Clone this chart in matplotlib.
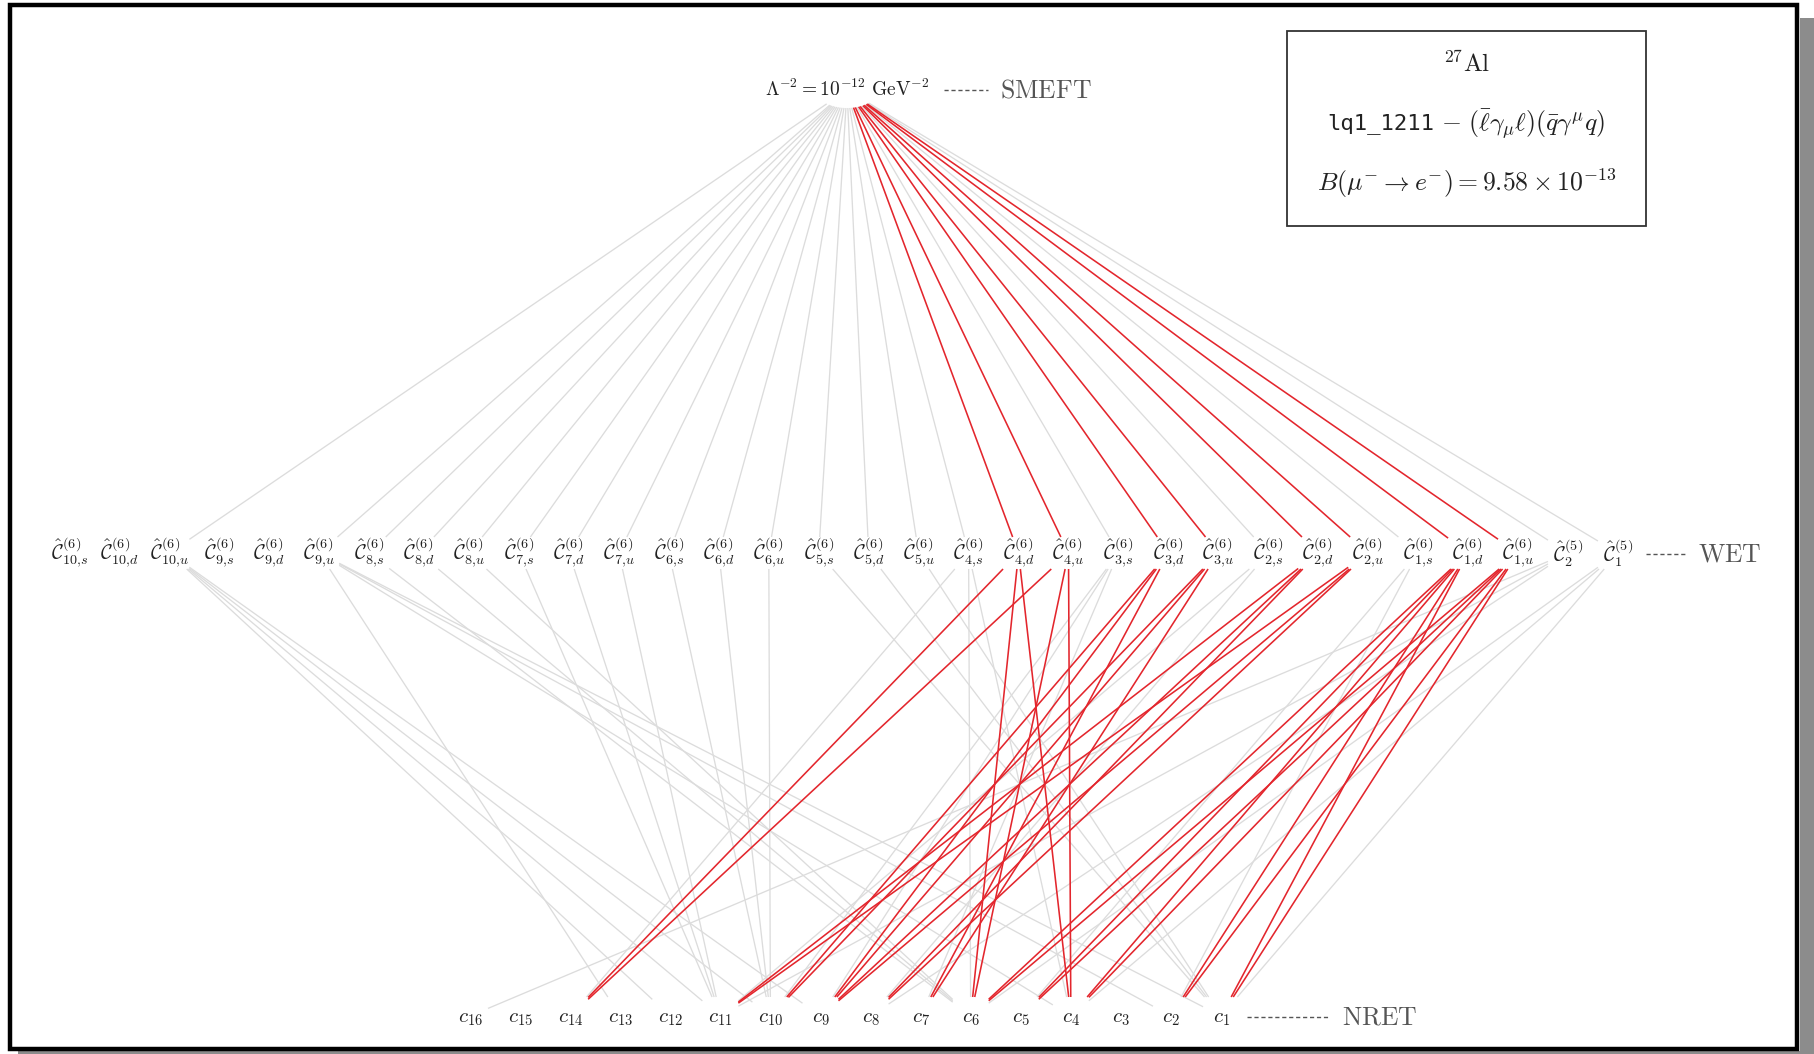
import matplotlib
matplotlib.use("Agg")
import matplotlib.pyplot as plt
from matplotlib.patches import Rectangle

plt.rcParams["mathtext.fontset"] = "cm"
plt.rcParams["font.family"] = ["DejaVu Serif"]

W, H = 1815, 1054

# ---- nodes -------------------------------------------------------------
wet_nodes = ["C10s", "C10d", "C10u", "C9s", "C9d", "C9u", "C8s", "C8d", "C8u",
             "C7s", "C7d", "C7u", "C6s", "C6d", "C6u", "C5s", "C5d", "C5u",
             "C4s", "C4d", "C4u", "C3s", "C3d", "C3u", "C2s", "C2d", "C2u",
             "C1s", "C1d", "C1u", "D2", "D1"]


def wet_label(name):
    if name.startswith("D"):
        return r"$\hat{\mathcal{C}}^{(5)}_{%s}$" % name[1:]
    return r"$\hat{\mathcal{C}}^{(6)}_{%s{,}%s}$" % (name[1:-1], name[-1])


nret_nodes = list(range(16, 0, -1))          # c16 ... c1, left to right

# ---- edges -------------------------------------------------------------
# SMEFT -> WET
smeft_gray = ["C10u", "C9u", "C8s", "C8d", "C8u", "C7s", "C7d", "C7u",
              "C6s", "C6d", "C6u", "C5s", "C5d", "C5u", "C4s", "C3s",
              "C2s", "C1s", "D2", "D1"]
smeft_red = ["C4d", "C4u", "C3d", "C3u", "C2d", "C2u", "C1d", "C1u"]

# WET -> NRET
wet_gray = {
    "C10u": [12, 11, 10, 9],
    "C9u": [13, 4, 2, 1],
    "C8s": [6], "C8d": [6], "C8u": [6],
    "C7s": [11], "C7d": [11], "C7u": [11],
    "C6s": [10], "C6d": [10], "C6u": [10],
    "C5s": [1], "C5d": [1], "C5u": [1],
    "C4s": [14, 6, 4],
    "C3s": [10, 9, 7],
    "C2s": [11, 8],
    "C1s": [5, 2],
    "D2": [16, 11, 8],
    "D1": [6, 4, 1],
}
wet_red = {
    "C4d": [14, 6, 4], "C4u": [14, 6, 4],
    "C3d": [10, 9, 7], "C3u": [10, 9, 7],
    "C2d": [11, 9, 8], "C2u": [11, 9, 8],
    "C1d": [6, 5, 4, 2, 1], "C1u": [6, 5, 4, 2, 1],
}

# ---- layout (pixel coordinates) ---------------------------------------
top_xy = (847, 90)
wet_pos = {n: (69.5 + 49.95 * i, 553) for i, n in enumerate(wet_nodes)}
nret_pos = {k: (470 + 50.07 * (16 - k), 1016) for k in nret_nodes}

GRAY = "#dcdcdc"
RED = "#e3262d"


def clip_rect(p, q, hw, hh):
    dx, dy = q[0] - p[0], q[1] - p[1]
    t = min(hw / abs(dx) if dx else 1e9, hh / abs(dy) if dy else 1e9)
    return p[0] + t * dx, p[1] + t * dy


def clip_ell(p, q, a, b):
    dx, dy = q[0] - p[0], q[1] - p[1]
    t = 1.0 / ((dx / a) ** 2 + (dy / b) ** 2) ** 0.5
    return p[0] + t * dx, p[1] + t * dy


fig = plt.figure(figsize=(W / 100, H / 100), dpi=100)
ax = fig.add_axes([0, 0, 1, 1])
ax.set_xlim(0, W)
ax.set_ylim(H, 0)
ax.axis("off")


def edge(a, b, color, z, a_top=False):
    if a_top:
        s = clip_ell(a, b, 32, 18)
        e = clip_rect(b, a, 20, 16)
    else:
        s = clip_rect(a, b, 20, 16)
        e = clip_rect(b, a, 18, 19)
    ax.plot([s[0], e[0]], [s[1], e[1]], color=color,
            lw=1.15 if color == RED else 0.95, zorder=z, solid_capstyle="butt")


for n in smeft_gray:
    edge(top_xy, wet_pos[n], GRAY, 1, a_top=True)
for n in smeft_red:
    edge(top_xy, wet_pos[n], RED, 2, a_top=True)
for n, targets in wet_gray.items():
    for k in targets:
        edge(wet_pos[n], nret_pos[k], GRAY, 1)
for n, targets in wet_red.items():
    for k in targets:
        edge(wet_pos[n], nret_pos[k], RED, 2)

# ---- labels -------------------------------------------------------------
for n in wet_nodes:
    x, y = wet_pos[n]
    ax.text(x, y, wet_label(n), ha="center", va="center", fontsize=14.5, color="#222222")
for k in nret_nodes:
    x, y = nret_pos[k]
    ax.text(x, y + 2, r"$c_{%d}$" % k, ha="center", va="center", fontsize=15, color="#222222")

ax.text(top_xy[0], 89, r"$\Lambda^{-2} = 10^{-12}\ \mathrm{GeV}^{-2}$",
        ha="center", va="center", fontsize=14, color="#222222")

# layer tags
for x0, x1, y, x_txt, tag in [(944, 988, 90, 1000, "SMEFT"),
                              (1646, 1687, 554, 1698, "WET"),
                              (1247, 1330, 1017, 1342, "NRET")]:
    ax.plot([x0, x1], [y, y], ls=(0, (3, 2)), color="#555555", lw=1.0)
    ax.text(x_txt, y, r"$\mathrm{%s}$" % tag, ha="left", va="center",
            fontsize=18.5, color="#555555")

# info box
ax.add_patch(Rectangle((1287, 31), 359, 195, fill=False, ec="#333333", lw=1.3, zorder=5))
ax.text(1467, 64, r"$^{27}\mathrm{Al}$", ha="center", va="center", fontsize=18, color="#222222")
ax.text(1434, 124, "lq1_1211", ha="right", va="center", fontsize=16,
        family="DejaVu Sans Mono", color="#222222")
ax.text(1441, 124, r"$-\ (\bar{\ell}\gamma_{\mu}\ell)(\bar{q}\gamma^{\mu}q)$",
        ha="left", va="center", fontsize=18.5, color="#222222")
ax.text(1467, 183, r"$B(\mu^{-} \to e^{-}) = 9.58 \times 10^{-13}$",
        ha="center", va="center", fontsize=18.5, color="#222222")

# frame and drop shadow of the screenshot
ax.add_patch(Rectangle((1800, 18), 15, H - 18, fc="#8c8c8c", ec="none", zorder=6))
ax.add_patch(Rectangle((18, 1051), W - 18, 3, fc="#8c8c8c", ec="none", zorder=6))
ax.add_patch(Rectangle((10, 5), 1787, 1044, fill=False, ec="black", lw=3.2, zorder=7))

fig.savefig("out.png", dpi=100)
